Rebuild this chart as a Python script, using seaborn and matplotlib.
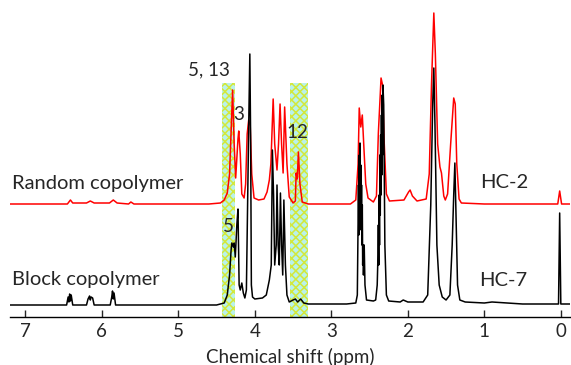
import numpy as np
import pandas as pd
import seaborn as sns
import matplotlib.pyplot as plt

# traced points of the two spectra (ppm, height above own baseline)
random_ppm = [7.2, 6.45, 6.41, 6.38, 6.2, 6.15, 6.1, 5.9, 5.85, 5.8, 5.65, 5.62, 5.58,
              4.6, 4.45, 4.40, 4.36, 4.33, 4.29, 4.27, 4.25, 4.22, 4.21, 4.19, 4.17, 4.14,
              4.12, 4.10, 4.08, 4.06, 4.04, 4.01, 3.95, 3.88, 3.84, 3.81, 3.79, 3.76, 3.74,
              3.71, 3.69, 3.67, 3.65, 3.63, 3.61, 3.58, 3.55, 3.50, 3.47, 3.46, 3.445, 3.43,
              3.41, 3.38, 3.3, 2.75, 2.68, 2.65, 2.635, 2.615, 2.595, 2.57, 2.55, 2.52, 2.45,
              2.41, 2.385, 2.36, 2.35, 2.33, 2.31, 2.28, 2.24, 2.05, 1.99, 1.97, 1.94, 1.88,
              1.76, 1.72, 1.69, 1.66, 1.64, 1.61, 1.58, 1.56, 1.53, 1.51, 1.48, 1.44, 1.40,
              1.38, 1.36, 1.33, 1.3, 1.0, 0.04, 0.015, -0.01, -0.15]
random_int = [0, 0, 4, 1, 1, 3, 1, 1, 4, 1, 0, 2, 0,
              0, 1, 4, 11, 30, 114, 60, 26, 65, 73, 50, 10, 6,
              20, 70, 84, 78, 30, 6, 4, 5, 12, 24, 40, 105, 60,
              34, 60, 100, 60, 31, 97, 40, 7, 1, 3, 31, 25, 52,
              20, 2, 0, 0, 4, 40, 96, 77, 89, 50, 20, 6, 2,
              8, 71, 110, 126, 119, 64, 10, 3, 4, 12, 14, 8, 3,
              5, 30, 120, 191, 150, 60, 37, 31, 8, 4, 10, 60, 106,
              100, 40, 5, 1, 0, 0, 13, 0, 0]

block_ppm = [7.2, 6.46, 6.44, 6.43, 6.42, 6.41, 6.40, 6.38, 6.2, 6.18, 6.16, 6.15, 6.14,
             6.12, 6.10, 5.89, 5.87, 5.86, 5.85, 5.84, 5.82, 4.5, 4.40, 4.36, 4.33, 4.31,
             4.30, 4.28, 4.27, 4.255, 4.235, 4.22, 4.205, 4.19, 4.17, 4.15, 4.13, 4.11,
             4.095, 4.08, 4.065, 4.055, 4.045, 4.03, 4.0, 3.9, 3.85, 3.81, 3.785, 3.77,
             3.755, 3.74, 3.72, 3.71, 3.695, 3.68, 3.665, 3.65, 3.635, 3.62, 3.60, 3.58,
             3.55, 3.50, 3.47, 3.44, 3.40, 3.36, 3.3, 2.9, 2.8, 2.68, 2.66,
             2.65, 2.645, 2.64, 2.635, 2.63, 2.625, 2.62, 2.615, 2.61, 2.605, 2.60, 2.595,
             2.59, 2.585, 2.58, 2.57, 2.56, 2.54, 2.45, 2.42, 2.40, 2.39, 2.385, 2.38,
             2.375, 2.37, 2.365, 2.36, 2.355, 2.35, 2.345, 2.34, 2.335, 2.33, 2.325,
             2.315, 2.30, 2.28, 2.25, 2.1, 2.06, 2.0, 1.80, 1.74,
             1.70, 1.675, 1.66, 1.645, 1.62, 1.59, 1.55, 1.50, 1.45, 1.42, 1.40, 1.385,
             1.37, 1.35, 1.32, 1.25, 1.0, 0.9, 0.5, 0.03, 0.015, 0.0, -0.15]
block_int = [0, 0, 8, 3, 11, 4, 10, 0, 0, 6, 9, 5, 8,
             7, 0, 0, 8, 14, 6, 12, 0, 0, 2, 10, 30, 55,
             62, 58, 62, 48, 80, 96, 20, 15, 22, 12, 7, 15,
             100, 178, 251, 170, 20, 8, 6, 7, 10, 25, 40, 155,
             110, 40, 60, 120, 60, 40, 112, 60, 30, 105, 40, 10,
             3, 5, 6, 3, 6, 2, 1, 1, 1, 2, 10,
             90, 120, 70, 150, 90, 162, 95, 140, 75, 120, 60, 100,
             40, 60, 30, 60, 20, 5, 4, 5, 20, 50, 80, 40,
             110, 60, 150, 90, 170, 110, 190, 130, 210, 150, 220,
             200, 60, 10, 4, 3, 5, 3, 3, 10,
             100, 200, 237, 180, 60, 20, 8, 5, 10, 60, 110, 142,
             90, 20, 5, 3, 2, 3, 1, 1, 92, 1, 1]

random_offset = 113
block_offset = 12

bands = [(4.43, 4.26), (3.54, 3.30)]
ticks = [7, 6, 5, 4, 3, 2, 1, 0]

sns.set_theme(style="white")
plt.rcParams['font.family'] = ['Lato', 'DejaVu Sans']
plt.rcParams['hatch.linewidth'] = 1.1

fig = plt.figure(figsize=(5.71, 3.65), dpi=100)
ax = fig.add_axes([10 / 571, 48 / 365, 560 / 571, 317 / 365])

for lo, hi in bands:
    ax.axvspan(hi, lo, ymin=0, ymax=234 / 317, facecolor='#b9f2ea',
               edgecolor='#d3e83a', hatch='xxxx', lw=0, zorder=0)

df_r = pd.DataFrame({'ppm': random_ppm, 'y': np.array(random_int) + random_offset})
df_b = pd.DataFrame({'ppm': block_ppm, 'y': np.array(block_int) + block_offset})

sns.lineplot(data=df_r, x='ppm', y='y', sort=False, estimator=None,
             color='#ff0000', linewidth=1.1, ax=ax, zorder=2)
sns.lineplot(data=df_b, x='ppm', y='y', sort=False, estimator=None,
             color='black', linewidth=1.1, ax=ax, zorder=3)

ax.set_xlim(7.2, -0.12)
ax.set_ylim(0, 317)
ax.set_xticks(ticks)
ax.set_xticklabels([str(t) for t in ticks], fontsize=13.5)
ax.set_yticks([])
ax.tick_params(axis='x', direction='in', length=5, width=1, pad=4, bottom=True)
for s in ['top', 'left', 'right']:
    ax.spines[s].set_visible(False)
ax.spines['bottom'].set_linewidth(1)
ax.spines['bottom'].set_color('black')
ax.set_xlabel('Chemical shift (ppm)', fontsize=13.5, labelpad=6)
ax.set_ylabel('')

fs = 14.5
ax.text(7.17, 134, 'Random copolymer', fontsize=fs, va='center', ha='left')
ax.text(7.17, 37, 'Block copolymer', fontsize=fs, va='center', ha='left')
ax.text(1.06, 134, 'HC-2', fontsize=fs, va='center', ha='left')
ax.text(1.07, 37, 'HC-7', fontsize=fs, va='center', ha='left')
ax.text(4.60, 247, '5, 13', fontsize=13.5, va='center', ha='center')
ax.text(4.21, 202, '3', fontsize=13.5, va='center', ha='center')
ax.text(3.45, 184, '12', fontsize=13.5, va='center', ha='center')
ax.text(4.34, 91, '5', fontsize=13.5, va='center', ha='center')

fig.savefig('out.png', dpi=100)
